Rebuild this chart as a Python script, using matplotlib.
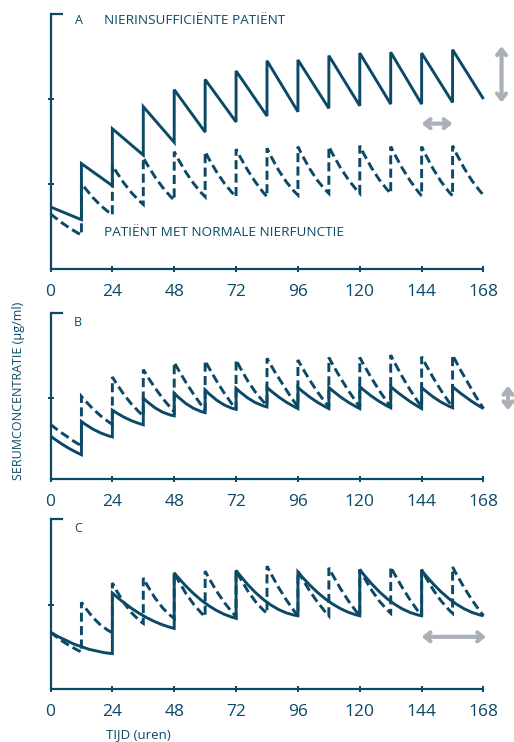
import matplotlib.pyplot as plt
from matplotlib.path import Path
from matplotlib.patches import PathPatch

plt.rcParams['font.family'] = ['Open Sans', 'DejaVu Sans']

BLUE = '#0b4966'
GREY = '#a9b0b7'

hours = [0, 24, 48, 72, 96, 120, 144, 168]

# panel A - nierinsufficient (solid, straight decay) vs normal (dashed)
a_solid_start, a_solid_end = 0.73, 2.00
a_solid_troughs = [0.58, 0.98, 1.34, 1.49, 1.61, 1.73, 1.80, 1.85, 1.89, 1.92, 1.94, 1.94, 1.96]
a_solid_peaks = [1.24, 1.65, 1.91, 2.11, 2.23, 2.33, 2.45, 2.46, 2.51, 2.54, 2.55, 2.54, 2.58]

a_dash_start, a_dash_end = 0.65, 0.87
a_dash_troughs = [0.40, 0.64, 0.76, 0.81, 0.85, 0.85, 0.85, 0.87, 0.89, 0.89, 0.89, 0.86, 0.86]
a_dash_peaks = [1.01, 1.22, 1.31, 1.38, 1.38, 1.41, 1.42, 1.44, 1.44, 1.45, 1.44, 1.44, 1.45]
a_dash_mids = [0.51, 0.79, 0.95, 1.02, 1.07, 1.07, 1.09, 1.09, 1.11, 1.12, 1.12, 1.11, 1.10, 1.11]

# panel B
b_solid_start, b_solid_end = 0.53, 0.87
b_solid_troughs = [0.30, 0.52, 0.67, 0.78, 0.82, 0.86, 0.89, 0.87, 0.87, 0.87, 0.88, 0.87, 0.88]
b_solid_peaks = [0.71, 0.85, 1.00, 1.06, 1.10, 1.12, 1.13, 1.13, 1.13, 1.14, 1.14, 1.13, 1.14]
b_solid_mids = [0.40, 0.59, 0.74, 0.85, 0.90, 0.94, 0.97, 0.98, 0.98, 0.98, 0.99, 0.99, 0.98, 0.99]

b_dash_start, b_dash_end = 0.675, 0.87
b_dash_troughs = [0.41, 0.675, 0.78, 0.83, 0.85, 0.86, 0.91, 0.89, 0.89, 0.89, 0.89, 0.89, 0.89]
b_dash_peaks = [1.02, 1.26, 1.35, 1.44, 1.46, 1.47, 1.49, 1.47, 1.50, 1.50, 1.53, 1.51, 1.53]
b_dash_mids = [0.53, 0.82, 0.98, 1.06, 1.12, 1.13, 1.14, 1.17, 1.15, 1.17, 1.17, 1.18, 1.17, 1.18]

# panel C - solid every 24 h, dashed every 12 h
c_solid_start, c_solid_end = 0.675, 0.87
c_solid_troughs = [0.42, 0.72, 0.84, 0.87, 0.87, 0.87]
c_solid_peaks = [1.14, 1.38, 1.41, 1.39, 1.42, 1.41]
c_solid_mids = [0.50, 0.87, 1.02, 1.03, 1.04, 1.04, 1.04]

c_dash_start, c_dash_end = 0.675, 0.87
c_dash_troughs = [0.44, 0.67, 0.78, 0.84, 0.86, 0.86, 0.90, 0.87, 0.87, 0.87, 0.90, 0.87, 0.90]
c_dash_peaks = [1.03, 1.26, 1.32, 1.38, 1.40, 1.41, 1.46, 1.40, 1.44, 1.42, 1.45, 1.42, 1.45]
c_dash_mids = [0.54, 0.80, 0.96, 1.02, 1.07, 1.09, 1.10, 1.13, 1.10, 1.12, 1.11, 1.13, 1.11, 1.13]


def saw_path(start, troughs, peaks, end, step, mids=None):
    tops = [start] + peaks
    bottoms = troughs + [end]
    verts, codes = [(0, start)], [Path.MOVETO]
    t0 = 0
    for i, (top, bot) in enumerate(zip(tops, bottoms)):
        t1 = t0 + step
        if i > 0:
            verts.append((t0, top))
            codes.append(Path.LINETO)
        if mids is None:
            verts.append((t1, bot))
            codes.append(Path.LINETO)
        else:
            # quadratic curve running through the read mid value
            cy = 2 * mids[i] - (top + bot) / 2
            verts += [((t0 + t1) / 2, cy), (t1, bot)]
            codes += [Path.CURVE3, Path.CURVE3]
        t0 = t1
    return Path(verts, codes)


def draw(ax, path, dashed=False):
    patch = PathPatch(path, fill=False, edgecolor=BLUE, lw=2.1, clip_on=False,
                      capstyle='butt', joinstyle='miter')
    if dashed:
        patch.set_linestyle((0, (3.1, 1.5)))
    ax.add_patch(patch)


def style(ax, ytop, yticks):
    ax.set_xlim(0, 168)
    ax.set_ylim(0, ytop)
    for s in ['top', 'right']:
        ax.spines[s].set_visible(False)
    for s in ['left', 'bottom']:
        ax.spines[s].set_color(BLUE)
        ax.spines[s].set_linewidth(1.6)
    ax.set_xticks(hours)
    ax.set_yticks(yticks)
    ax.set_yticklabels([])
    ax.tick_params(colors=BLUE, width=1.4, length=5, direction='inout',
                   labelsize=12.5, pad=8)
    ax.plot([0, 0.03], [1, 1], transform=ax.transAxes, color=BLUE, lw=1.6,
            clip_on=False, solid_capstyle='butt')


def arrow(ax, p0, p1):
    ax.annotate('', xy=p1, xytext=p0, annotation_clip=False,
                arrowprops=dict(arrowstyle='<->,head_length=0.4,head_width=0.32',
                                color=GREY, lw=3, shrinkA=0, shrinkB=0))


W, H = 514, 742
fig = plt.figure(figsize=(W / 100, H / 100), dpi=100)


def axes_px(left, right, top, bottom):
    return fig.add_axes([left / W, 1 - bottom / H, (right - left) / W, (bottom - top) / H])


axA = axes_px(50.5, 483.5, 14, 269)
style(axA, 3.0, [1, 2])
draw(axA, saw_path(a_solid_start, a_solid_troughs, a_solid_peaks, a_solid_end, 12))
draw(axA, saw_path(a_dash_start, a_dash_troughs, a_dash_peaks, a_dash_end, 12, a_dash_mids), True)
arrow(axA, (175, 2.62), (175, 1.96))
arrow(axA, (144, 1.71), (156, 1.71))

axB = axes_px(50.5, 483.5, 313, 479)
style(axB, 2.05, [1])
draw(axB, saw_path(b_solid_start, b_solid_troughs, b_solid_peaks, b_solid_end, 12, b_solid_mids))
draw(axB, saw_path(b_dash_start, b_dash_troughs, b_dash_peaks, b_dash_end, 12, b_dash_mids), True)
arrow(axB, (177.5, 1.15), (177.5, 0.85))

axC = axes_px(50.5, 483.5, 519, 689)
style(axC, 2.02, [1])
draw(axC, saw_path(c_solid_start, c_solid_troughs, c_solid_peaks, c_solid_end, 24, c_solid_mids))
draw(axC, saw_path(c_dash_start, c_dash_troughs, c_dash_peaks, c_dash_end, 12, c_dash_mids), True)
arrow(axC, (144, 0.62), (169, 0.62))


def ftext(x, y, s, size, **kw):
    fig.text(x / W, 1 - y / H, s, fontsize=size, color=BLUE, va='center', **kw)


ftext(78.5, 21, 'A', 9, ha='center')
ftext(104, 20.5, 'NIERINSUFFICIËNTE PATIËNT', 9.7)
ftext(104, 232.5, 'PATIËNT MET NORMALE NIERFUNCTIE', 9.7)
ftext(77.5, 322, 'B', 9, ha='center')
ftext(78, 529, 'C', 9, ha='center')
ftext(19, 391, 'SERUMCONCENTRATIE (µg/ml)', 9, ha='center', rotation=90)
ftext(138, 735, 'TIJD (uren)', 9.5, ha='center')

fig.savefig('out.png', dpi=100)
